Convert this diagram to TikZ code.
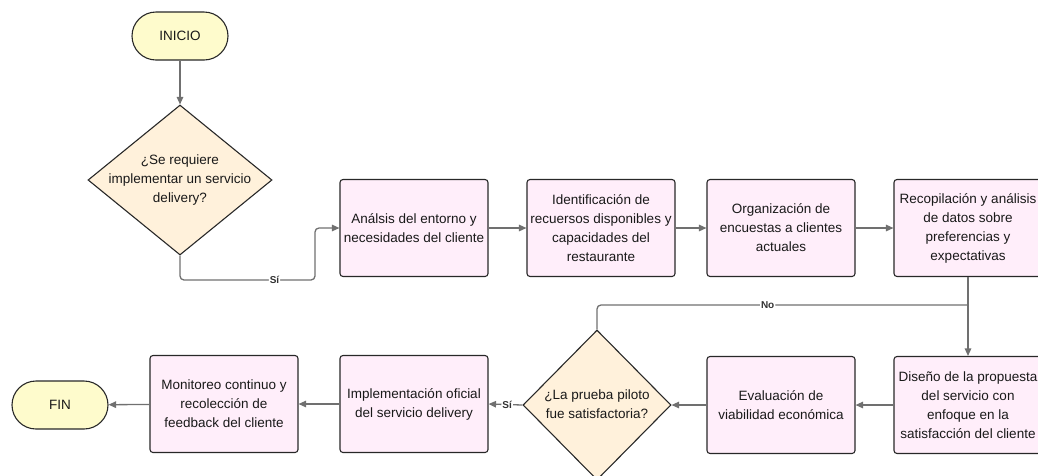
\documentclass[tikz,border=0pt]{standalone}
\usepackage{fontspec}
\setmainfont{Liberation Sans}
\usetikzlibrary{calc, arrows.meta, shapes.geometric}
\definecolor{termfill}{RGB}{254,251,204}
\definecolor{decfill}{RGB}{255,241,219}
\definecolor{procfill}{RGB}{255,238,250}
\definecolor{linegray}{RGB}{112,112,112}
\definecolor{edgedark}{RGB}{40,40,40}

\begin{document}
\begin{tikzpicture}[x=1pt, y=-1pt,
    every node/.style={font=\fontsize{13.5}{19}\selectfont, align=center, text=black!90},
    term/.style={draw=edgedark, line width=1.1pt, fill=termfill, rounded corners=24pt, minimum width=96, minimum height=48},
    proc/.style={draw=edgedark, line width=1.1pt, fill=procfill, rounded corners=3pt, minimum width=148, minimum height=97},
    dec/.style={diamond, draw=edgedark, line width=1.1pt, fill=decfill, inner sep=0pt, minimum width=184, minimum height=150},
    flow/.style={draw=linegray, line width=1.3pt, rounded corners=4pt, -{Triangle[width=6.5pt,length=7.5pt]}},
    lbl/.style={fill=white, inner sep=1pt, font=\fontsize{10}{10}\selectfont\bfseries, text=black!80}]
      \useasboundingbox (0,0) rectangle (1038,475);
      \node[term] (0) at (180,36) {INICIO};
      \node[dec] (1) at (180,180) {};
      \node (1t) at (180,180) {¿Se requiere\\implementar un servicio\\delivery?};
      \node[proc] (2) at (414,228) {Análsis del entorno y\\necesidades del cliente};
      \node[proc] (3) at (601,228) {Identificación de\\recuersos disponibles y\\capacidades del\\restaurante};
      \node[proc] (4) at (781,228) {Organización de\\encuestas a clientes\\actuales};
      \node[proc] (5) at (968,228) {Recopilación y análisis\\de datos sobre\\preferencias y\\expectativas};
      \node[proc] (6) at (968,405) {Diseño de la propuesta\\del servicio con\\enfoque en la\\satisfacción del cliente};
      \node[proc] (7) at (781,405) {Evaluación de\\viabilidad económica};
      \node[dec, minimum width=148] (8) at (597,405) {};
      \node (8t) at (597,404) {¿La prueba piloto\\fue satisfactoria?};
      \node[proc] (9) at (414,404) {Implementación oficial\\del servicio delivery};
      \node[proc] (10) at (224,404) {Monitoreo continuo y\\recolección de\\feedback del cliente};
      \node[term] (11) at (60,405) {FIN};
      \coordinate (s) at (315,280);
      \coordinate (n) at (968,305);
      \draw[flow] (0) -- (1);
      \draw[flow] (1.south) |- node[lbl, pos=0.85] {Sí} (s) |- (2.west);
      \draw[flow] (2) -- (3);
      \draw[flow] (3) -- (4);
      \draw[flow] (4) -- (5);
      \draw[flow] (5) -- (6);
      \draw[flow] (6) -- (7);
      \draw[flow] (7) -- (8);
      \draw[flow] (8.west) -- node[lbl, pos=0.45] {Sí} (9.east);
      \draw[flow, -] (8.north) |- node[lbl, pos=0.73] {No} (n);
      \draw[flow] (9) -- (10);
      \draw[flow] (10) -- (11);
    \end{tikzpicture}
\end{document}
